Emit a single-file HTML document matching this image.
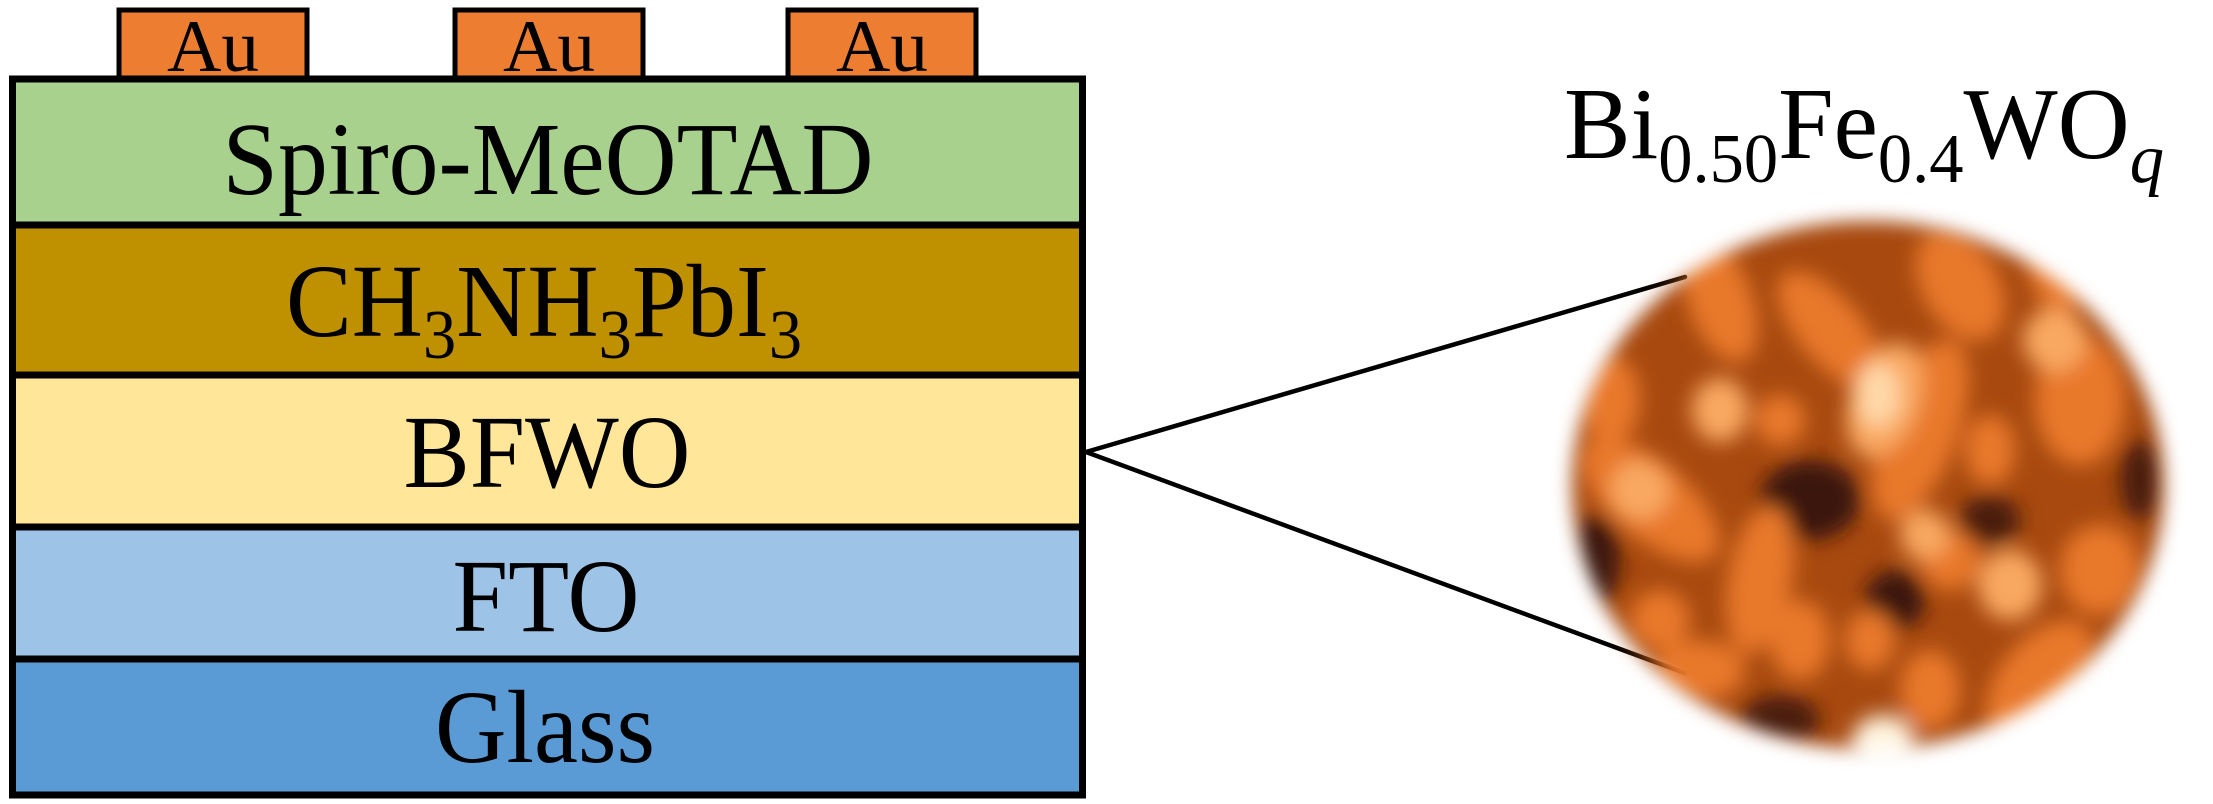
<!DOCTYPE html>
<html><head><meta charset="utf-8">
<style>html,body{margin:0;padding:0;background:#fff}svg{display:block}
svg text{font-family:"Liberation Serif","Times New Roman",Times,"Nimbus Roman","Nimbus Roman No9 L",FreeSerif,Tinos,serif}</style>
</head><body>
<svg width="2213" height="804" viewBox="0 0 2213 804" xmlns="http://www.w3.org/2000/svg">
<defs>
<filter id="bl" x="-10%" y="-10%" width="120%" height="120%"><feGaussianBlur stdDeviation="10"/></filter>
<filter id="edge" x="-10%" y="-10%" width="120%" height="120%"><feGaussianBlur stdDeviation="9"/></filter>
<mask id="mk"><ellipse cx="1868" cy="485" rx="296" ry="264" fill="#fff" filter="url(#edge)"/></mask>
</defs>
<g fill="#ed7d31" stroke="#000" stroke-width="5">
<rect x="119" y="10" width="188" height="70"/>
<rect x="455" y="10" width="188" height="70"/>
<rect x="788" y="10" width="188" height="70"/>
</g>
<g font-size="74" text-anchor="middle">
<text x="213" y="71" textLength="92" lengthAdjust="spacingAndGlyphs">Au</text><text x="549" y="71" textLength="92" lengthAdjust="spacingAndGlyphs">Au</text><text x="882" y="71" textLength="92" lengthAdjust="spacingAndGlyphs">Au</text>
</g>
<rect x="12" y="79" width="1071" height="146" fill="#a9d18e"/>
<rect x="12" y="225" width="1071" height="150" fill="#bf9000"/>
<rect x="12" y="375" width="1071" height="152" fill="#ffe699"/>
<rect x="12" y="527" width="1071" height="132" fill="#9dc3e6"/>
<rect x="12" y="659" width="1071" height="136" fill="#5b9bd5"/>
<g stroke="#000" stroke-width="7" fill="none">
<rect x="12.5" y="79" width="1070" height="716"/>
<line x1="12" y1="225" x2="1083" y2="225"/>
<line x1="12" y1="375" x2="1083" y2="375"/>
<line x1="12" y1="527" x2="1083" y2="527"/>
<line x1="12" y1="659" x2="1083" y2="659"/>
</g>
<g font-size="104" text-anchor="middle">
<text x="548" y="194" textLength="651" lengthAdjust="spacingAndGlyphs">Spiro-MeOTAD</text>
<text x="547" y="487" textLength="287" lengthAdjust="spacingAndGlyphs">BFWO</text>
<text x="546" y="631" textLength="187" lengthAdjust="spacingAndGlyphs">FTO</text>
<text x="545" y="762" textLength="220" lengthAdjust="spacingAndGlyphs">Glass</text>
</g>
<text x="286" y="336" font-size="104" textLength="516" lengthAdjust="spacingAndGlyphs">CH<tspan font-size="70" dy="22">3</tspan><tspan dy="-22">NH</tspan><tspan font-size="70" dy="22">3</tspan><tspan dy="-22">PbI</tspan><tspan font-size="70" dy="22">3</tspan></text>
<text x="1564" y="158" font-size="102" textLength="600" lengthAdjust="spacingAndGlyphs">Bi<tspan font-size="70" dy="24">0.50</tspan><tspan dy="-24">Fe</tspan><tspan font-size="70" dy="24">0.4</tspan><tspan dy="-24">WO</tspan><tspan font-size="70" dy="24" font-style="italic">q</tspan></text>
<g stroke="#000" stroke-width="4.5" stroke-linecap="round">
<line x1="1086" y1="452" x2="1685" y2="277"/>
<line x1="1086" y1="452" x2="1685" y2="673"/>
</g>
<g mask="url(#mk)">
<rect x="1540" y="190" width="660" height="600" fill="#a84a10"/>
<g filter="url(#bl)">
<ellipse cx="1810" cy="500" rx="50" ry="40" fill="#3a1208"/>
<ellipse cx="1895" cy="600" rx="30" ry="30" fill="#3a1208"/>
<ellipse cx="1990" cy="520" rx="30" ry="25" fill="#4a1a0a"/>
<ellipse cx="1595" cy="560" rx="25" ry="45" fill="#3a1208"/>
<ellipse cx="1780" cy="720" rx="40" ry="25" fill="#4a1a0a"/>
<ellipse cx="2140" cy="480" rx="20" ry="40" fill="#4a1a0a"/>
<g fill="#e8782a">
<ellipse cx="1720" cy="300" rx="32" ry="65" transform="rotate(-20 1720 300)"/>
<ellipse cx="1830" cy="330" rx="32" ry="72" transform="rotate(-40 1830 330)"/>
<ellipse cx="1960" cy="285" rx="38" ry="60" transform="rotate(-30 1960 285)"/>
<ellipse cx="2060" cy="270" rx="30" ry="40"/>
<ellipse cx="1650" cy="500" rx="38" ry="85" transform="rotate(-50 1650 500)"/>
<ellipse cx="1610" cy="400" rx="30" ry="45"/>
<ellipse cx="1760" cy="580" rx="32" ry="75" transform="rotate(10 1760 580)"/>
<ellipse cx="1920" cy="430" rx="38" ry="95" transform="rotate(20 1920 430)"/>
<ellipse cx="2080" cy="400" rx="45" ry="65"/>
<ellipse cx="2100" cy="570" rx="40" ry="45"/>
<ellipse cx="1950" cy="560" rx="30" ry="30"/>
<ellipse cx="2040" cy="680" rx="40" ry="70" transform="rotate(40 2040 680)"/>
<ellipse cx="1800" cy="640" rx="30" ry="40"/>
<ellipse cx="1870" cy="640" rx="25" ry="30"/>
<ellipse cx="1700" cy="670" rx="45" ry="30"/>
<ellipse cx="1660" cy="620" rx="30" ry="30"/>
<ellipse cx="1990" cy="450" rx="25" ry="35"/>
<ellipse cx="1780" cy="420" rx="25" ry="25"/>
<ellipse cx="1930" cy="690" rx="30" ry="40"/>
</g>
<g fill="#f9a862">
<ellipse cx="1885" cy="400" rx="35" ry="60" transform="rotate(20 1885 400)"/>
<ellipse cx="1720" cy="410" rx="28" ry="32"/>
<ellipse cx="2010" cy="585" rx="32" ry="35"/>
<ellipse cx="2055" cy="340" rx="32" ry="32"/>
<ellipse cx="1925" cy="535" rx="25" ry="25"/>
<ellipse cx="1640" cy="490" rx="30" ry="30"/>
</g>
<ellipse cx="1883" cy="745" rx="32" ry="30" fill="#fff4e0"/>
<ellipse cx="1878" cy="395" rx="22" ry="32" fill="#ffd8a8"/>
</g>
</g>
</svg>
</body></html>
